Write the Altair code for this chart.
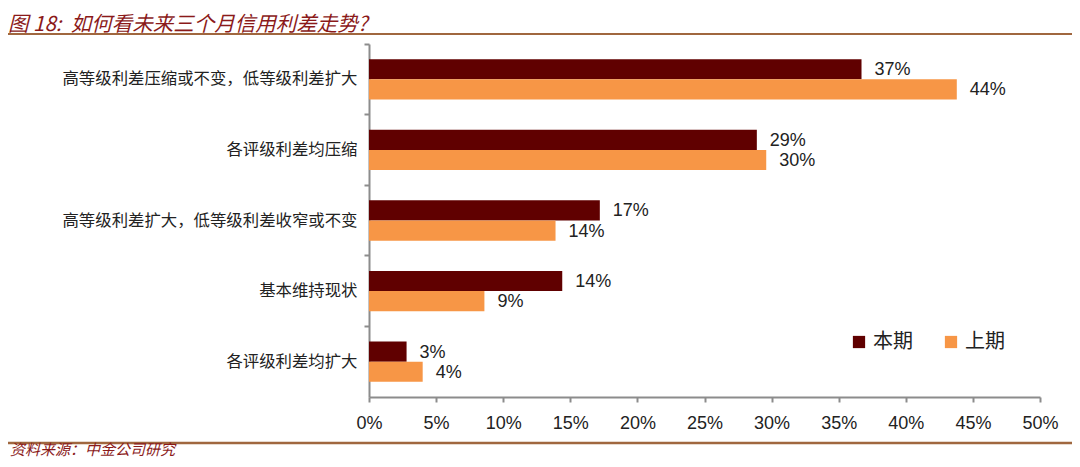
import altair as alt
import pandas as pd

# ===== data =====
categories = [
    "高等级利差压缩或不变，低等级利差扩大",
    "各评级利差均压缩",
    "高等级利差扩大，低等级利差收窄或不变",
    "基本维持现状",
    "各评级利差均扩大",
]
series = ["本期", "上期"]
current = [0.367, 0.289, 0.172, 0.144, 0.028]   # 本期
previous = [0.438, 0.296, 0.139, 0.086, 0.040]  # 上期
x_ticks = [0, 0.05, 0.10, 0.15, 0.20, 0.25, 0.30, 0.35, 0.40, 0.45, 0.50]

title_text = "图 18:\u00a0\u00a0如何看未来三个月信用利差走势?"
source_text = "资料来源：中金公司研究"

rows = []
for c, a, b in zip(categories, current, previous):
    rows.append({"cat": c, "series": series[0], "v": a})
    rows.append({"cat": c, "series": series[1], "v": b})
df = pd.DataFrame(rows)

W, H = 671, 353
PL, PT = 361, 36
NUM_FONT = "'Liberation Sans', Arial, sans-serif"
CJK = "Noto Sans CJK SC"

color = alt.Color(
    "series:N",
    sort=series,
    scale=alt.Scale(domain=series, range=["#600000", "#F79646"]),
    legend=alt.Legend(
        title=None, orient="none", legendX=480, legendY=288, direction="horizontal",
        symbolType="square", symbolSize=150, labelFont=CJK, labelFontSize=20,
        labelColor="#222222", columnPadding=28, symbolStrokeWidth=0,
    ),
)

y = alt.Y(
    "cat:N", sort=categories, title=None,
    scale=alt.Scale(paddingInner=0, paddingOuter=0),
    axis=alt.Axis(
        bandPosition=0, tickSize=5, labelPadding=7,
        labelFont=CJK, labelFontSize=16.4, labelColor="#222222",
        domainColor="#8c8c8c", tickColor="#8c8c8c", domainWidth=2, tickWidth=2,
        labelLimit=400,
    ),
)
yoff = alt.YOffset("series:N", sort=series, scale=alt.Scale(paddingInner=0, paddingOuter=0.75))
x = alt.X(
    "v:Q", title=None,
    scale=alt.Scale(domain=[0, 0.5], nice=False),
    axis=alt.Axis(
        values=x_ticks, format=".0%", tickSize=5, labelPadding=12, labelFlush=False,
        labelFont=NUM_FONT, labelFontSize=18, labelColor="#222222",
        domainColor="#8c8c8c", tickColor="#8c8c8c", domainWidth=2, tickWidth=2,
        grid=False,
    ),
)

base = alt.Chart(df)
bars = base.mark_bar().encode(x=x, y=y, yOffset=yoff, color=color)
labels = base.mark_text(
    align="left", baseline="middle", dx=13, dy=1, font=NUM_FONT, fontSize=18, color="#222222"
).encode(
    x="v:Q", y=alt.Y("cat:N", sort=categories), yOffset=alt.YOffset("series:N", sort=series),
    text=alt.Text("v:Q", format=".0%"),
)

deco = alt.Chart(pd.DataFrame({"t": [title_text]}))
title = deco.mark_text(
    align="left", baseline="alphabetic", font=CJK, fontSize=20.5, fontStyle="italic",
    color="#8B1A1A",
).encode(x=alt.value(-PL), y=alt.value(-13), text="t:N")
top_line = deco.mark_rule(color="#A0673F", strokeWidth=2).encode(
    x=alt.value(-PL), x2=alt.value(1080 - 8 - PL), y=alt.value(-10)
)
bottom_line = deco.mark_rule(color="#A0673F", strokeWidth=2.5).encode(
    x=alt.value(-PL), x2=alt.value(1080 - 8 - PL), y=alt.value(399)
)
source = alt.Chart(pd.DataFrame({"t": [source_text]})).mark_text(
    align="left", baseline="alphabetic", font=CJK, fontSize=15, fontStyle="italic",
    color="#8B1A1A",
).encode(x=alt.value(-PL + 2), y=alt.value(411), text="t:N")

chart = alt.layer(bars, labels, title, top_line, bottom_line, source).properties(
    width=W, height=H,
    autosize=alt.AutoSizeParams(type="none"),
    padding={"left": PL, "top": PT, "right": 1080 - 16 - PL - W, "bottom": 467 - 16 - PT - H},
).configure(background="white").configure_view(stroke=None)

chart.save("out.html", embed_options={"renderer": "svg", "actions": False})
